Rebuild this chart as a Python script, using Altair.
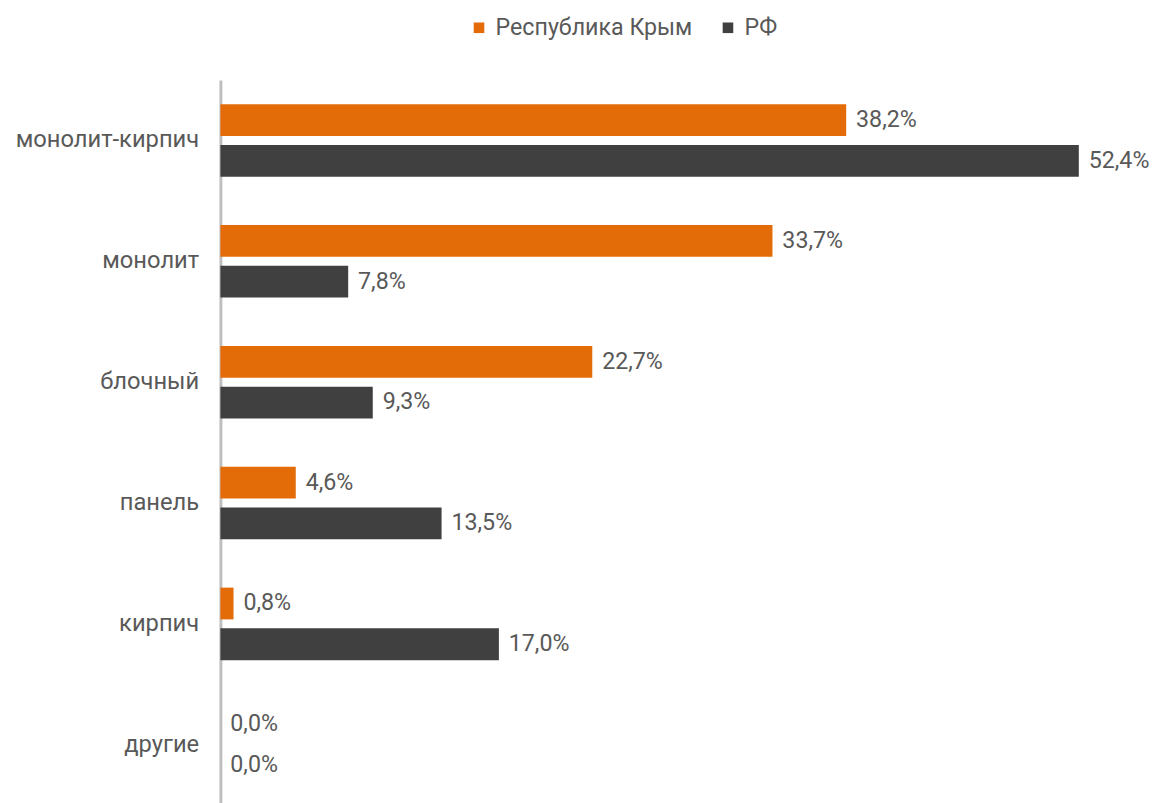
import altair as alt
import pandas as pd

categories = ["монолит-кирпич", "монолит", "блочный", "панель", "кирпич", "другие"]
series = ["Республика Крым", "РФ"]
crimea = [38.2, 33.7, 22.7, 4.6, 0.8, 0.0]
rf = [52.4, 7.8, 9.3, 13.5, 17.0, 0.0]
colors = ["#E36C09", "#404040"]

rows = []
for c, a, b in zip(categories, crimea, rf):
    for s, v in ((series[0], a), (series[1], b)):
        rows.append({"cat": c, "series": s, "value": v,
                     "label": f"{v:.1f}".replace(".", ",") + "%"})
df = pd.DataFrame(rows)

FONT = "Roboto"
TXT = "#595959"
FS = 23.5

y = alt.Y("cat:N", sort=categories, title=None,
          scale=alt.Scale(paddingInner=0.4, paddingOuter=0.2),
          axis=alt.Axis(domain=True, domainColor="#BFBFBF", domainWidth=3,
                        ticks=False, labelFont=FONT, labelFontSize=24,
                        labelColor=TXT, labelPadding=22, grid=False, labelLimit=0))
yoff = alt.YOffset("series:N", sort=series,
                   scale=alt.Scale(paddingInner=0.22))
x = alt.X("value:Q", scale=alt.Scale(domain=[0, 55]), axis=None)

base = alt.Chart(df)
bars = base.mark_bar().encode(
    y=y, yOffset=yoff, x=x,
    color=alt.Color("series:N", sort=series,
                    scale=alt.Scale(domain=series, range=colors),
                    legend=alt.Legend(title=None, orient="none", direction="horizontal",
                                      legendX=250, legendY=-65,
                                      labelFont=FONT, labelFontSize=FS, labelColor=TXT,
                                      labelLimit=0,
                                      symbolType="square", symbolSize=115,
                                      symbolStrokeWidth=0, columnPadding=24,
                                      labelOffset=5)),
)
texts = base.mark_text(align="left", baseline="middle", dx=10,
                       font=FONT, fontSize=FS, color=TXT).encode(
    y=y, yOffset=yoff, x=x, text="label:N")

chart = (bars + texts).properties(
    width=912, height=734, background="white",
    padding={"left": 7, "top": 3, "right": 5, "bottom": 0},
).configure_view(strokeWidth=0, stroke=None)

chart.save("out.html", embed_options={"renderer": "svg", "actions": False})
